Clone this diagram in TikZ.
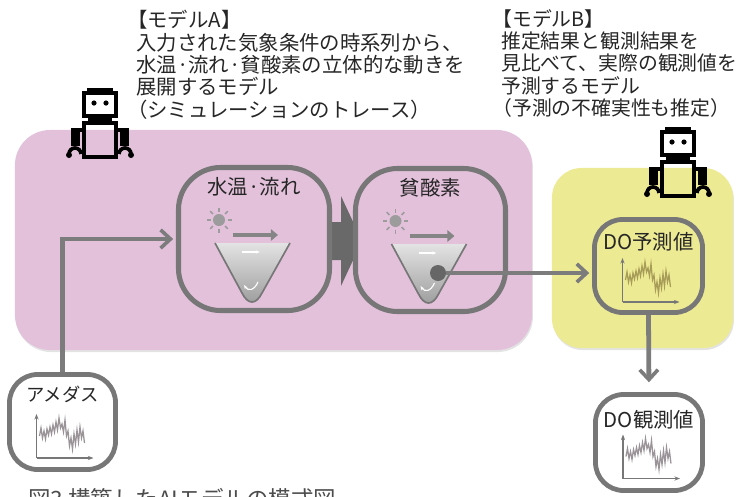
\documentclass[tikz,border=0pt]{standalone}
\usepackage{fontspec}
\setmainfont{Noto Sans CJK JP}
\usetikzlibrary{arrows.meta,positioning,shadows}

\definecolor{pinkarea}{HTML}{E3C1DB}
\definecolor{yellowarea}{HTML}{EDEA94}
\definecolor{framegray}{HTML}{777777}
\definecolor{flowgray}{HTML}{7C7C7C}
\definecolor{dotgray}{HTML}{666666}
\definecolor{suncol}{HTML}{9C9C9C}
\definecolor{trendolive}{HTML}{A89D58}
\definecolor{trendgray}{HTML}{9A9499}

\tikzset{
  area/.style={inner sep=0pt, drop shadow={opacity=0.22, shadow xshift=0.6pt, shadow yshift=-1.4pt}},
  stage/.style={draw=framegray, line width=3.6pt, rounded corners=30pt, fill=pinkarea, inner sep=0pt},
  gauge/.style={draw=framegray, line width=3.4pt, rounded corners=20pt, inner sep=0pt},
  tag/.style={inner sep=0pt, font=\fontsize{14.5}{16}\selectfont, text=black!85},
  note/.style={inner sep=0pt, align=left, font=\fontsize{14.5}{15.9}\selectfont, text=black!85},
  flow/.style={draw=flowgray, line width=3.4pt, shorten >=2pt,
    -{Straight Barb[length=7pt,width=13pt,line width=2.6pt]}},
}

% little robot, (0,0) is the top middle of its head
\newcommand{\robot}[1]{%
  \begin{scope}[shift={#1}]
    \fill (-13,0) rectangle (13,5);
    \draw[line width=2.2pt] (-16,5) rectangle (16,28);
    \fill (-6,15) circle (2.6);
    \fill (6,15) circle (2.6);
    \fill (-12,28) rectangle (12,35);
    \draw[line width=2.2pt] (-16,35) rectangle (16,69);
    \fill (-29,40) rectangle (-20,58);
    \fill (20,40) rectangle (29,58);
    \fill (-20,40) rectangle (-16,44);
    \fill (16,40) rectangle (20,44);
    \draw[line width=2.6pt] (-31,66) arc[start angle=180, end angle=360, radius=6];
    \draw[line width=2.6pt] (19,66) arc[start angle=180, end angle=360, radius=6];
    \fill (-31,67) circle (3);
    \fill (31,67) circle (3);
  \end{scope}}

% sun, wind and the cross section of the bay
\newcommand{\lake}[1]{%
  \begin{scope}[shift={(#1)}]
    \fill[suncol] (-35,-19) circle (6);
    \foreach \a in {0,45,...,315}
      \draw[suncol, line width=1.1pt] ([shift={(\a:8.5)}]-35,-19) -- ([shift={(\a:12.5)}]-35,-19);
    \draw[suncol!85!black, line width=3.2pt, -{Triangle[length=5pt,width=8pt]}] (-21,-4) -- (24,-4);
    \shade[top color=gray!22, bottom color=gray!78] (-39,4) -- (-12,54)
      .. controls (-6,66) and (2,66) .. (8,54) -- (36,4) -- cycle;
    \draw[framegray, line width=1.2pt] (-39,4) -- (-12,54)
      .. controls (-6,66) and (2,66) .. (8,54) -- (36,4);
    \draw[white, line width=0.8pt, -{Stealth[length=3pt]}] (-12,13) -- (6,13);
    \draw[white, line width=0.8pt, -{Stealth[length=3pt]}] (4,43) .. controls (0,52) and (-6,52) .. (-10,46);
  \end{scope}}

% time series with axes, drawn from the middle of its box
\newcommand{\trend}[2]{%
  \begin{scope}[shift={(#1)}, shift={(-26,36)}]
    \draw[framegray, line width=1.3pt, -{Stealth[length=4pt]}] (0,0) -- (0,-44);
    \draw[framegray, line width=1.3pt, -{Stealth[length=4pt]}] (0,0) -- (57,0);
    \draw[#2, line width=0.9pt] plot coordinates {(3,-22) (4.5,-30) (6,-20) (7.5,-27) (9,-19)
      (10.5,-29) (12,-23) (13.5,-31) (15,-24) (16.5,-33) (18,-26) (19.5,-36) (21,-28)
      (22.5,-40) (24,-30) (25.5,-34) (27,-26) (28.5,-38) (30,-22) (31.5,-27) (33,-12)
      (34.5,-20) (36,-9) (37.5,-24) (39,-14) (40.5,-28) (42,-16) (43.5,-31) (45,-20)
      (46.5,-27) (48,-15)};
  \end{scope}}

\begin{document}
\begin{tikzpicture}[x=0.025cm, y=-0.025cm]
  \useasboundingbox (0,0) rectangle (743,496);

  % the two model areas
  \node[area, fill=pinkarea, rounded corners=25pt, minimum width=12.925cm, minimum height=5.5cm] (areaA) at (273.5,240) {};
  \node[area, fill=yellowarea, rounded corners=21pt, minimum width=4.525cm, minimum height=4.5cm] (areaB) at (642.5,258) {};

  % coupling arrow between the two stages
  \fill[flowgray!85!black] (325,222) -- (341,222) -- (341,196) -- (362,241) -- (341,286) -- (341,260) -- (325,260) -- cycle;

  \node[stage, minimum width=3.775cm, minimum height=3.575cm] (temp) at (254,239) {};
  \node[stage, minimum width=3.75cm, minimum height=3.575cm] (oxy) at (430.5,240) {};
  \node[tag, below=0.295cm of temp.north] (tempname) {水温·流れ};
  \node[tag, below=0.295cm of oxy.north] (oxyname) {貧酸素};
  \lake{temp.center}
  \lake{oxy.center}
  \node[circle, fill=dotgray, minimum size=0.4cm, inner sep=0pt] (sink) at (438,273) {};

  % data boxes
  \node[gauge, fill=yellowarea, minimum width=2.7cm, minimum height=2.325cm] (pred) at (648.5,266) {};
  \node[gauge, fill=white, minimum width=2.675cm, minimum height=2.4cm] (obs) at (649,442.5) {};
  \node[gauge, fill=white, minimum width=2.65cm, minimum height=2.375cm] (amedas) at (62.5,422) {};
  \node[tag, below=0.37cm of pred.north] (predname) {DO予測値};
  \node[tag, below=0.445cm of obs.north] (obsname) {DO観測値};
  \node[tag, font=\fontsize{13}{15}\selectfont, below=0.34cm of amedas.north] (amedasname) {アメダス};
  \trend{pred.center}{trendolive}
  \trend{obs.center}{trendgray}
  \trend{amedas.center}{trendgray}

  % connectors
  \draw[flow] (amedas.north) |- (temp.west);
  \draw[flow] (sink) -- (sink -| pred.west);
  \draw[flow, shorten >=7pt] (pred.south) -- (obs.north);

  \robot{(100,88)}
  \robot{(678,127)}

  \node[note, anchor=north west] (noteA) at (136,10) {\kern-0.45em【モデルA】\\入力された気象条件の時系列から、\\水温·流れ·貧酸素の立体的な動きを\\展開するモデル\\\kern-0.45em（シミュレーションのトレース）};
  \node[note, font=\fontsize{14.1}{15.9}\selectfont, anchor=north west] (noteB) at (501,9) {\kern-0.45em【モデルB】\\推定結果と観測結果を\\見比べて、実際の観測値を\\予測するモデル\\\kern-0.45em（予測の不確実性も推定）};
  \node[note, font=\fontsize{16}{18}\selectfont, anchor=west, text=black!70] (caption) at (28,499) {図3 構築したAIモデルの模式図};
\end{tikzpicture}
\end{document}
